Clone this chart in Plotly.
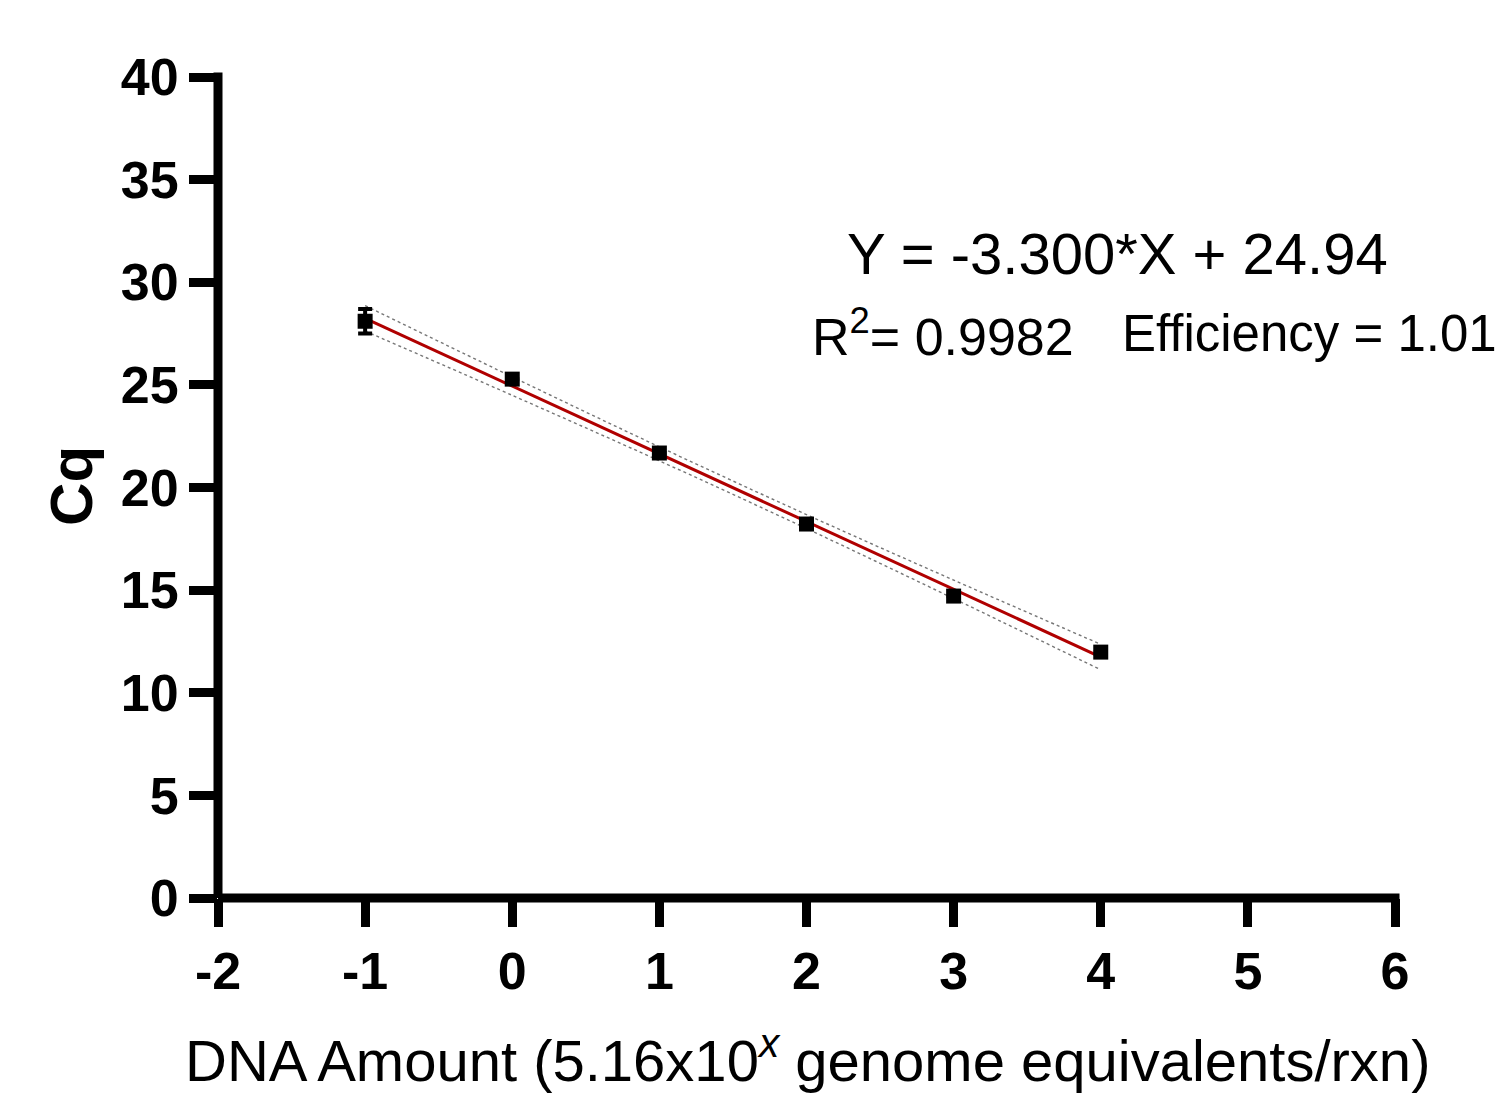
import plotly.graph_objects as go

# ---- data ----
dna_log_amount = [-1, 0, 1, 2, 3, 4]
cq_mean = [28.1, 25.28, 21.68, 18.22, 14.71, 11.98]
cq_err = [0.6, 0.0, 0.0, 0.0, 0.0, 0.0]

fit_x = [-1, 0, 1, 2, 3, 4]
fit_y = [28.24, 24.94, 21.64, 18.34, 15.04, 11.74]
ci_upper = [28.86, 25.39, 21.98, 18.68, 15.49, 12.36]
ci_lower = [27.62, 24.49, 21.30, 18.00, 14.59, 11.12]

x_ticks = [-2, -1, 0, 1, 2, 3, 4, 5, 6]
y_ticks = [0, 5, 10, 15, 20, 25, 30, 35, 40]

FONT = "Arial, Liberation Sans, Helvetica, sans-serif"

fig = go.Figure()

fig.add_trace(go.Scatter(x=fit_x, y=ci_upper, mode="lines",
                         line=dict(color="#777777", width=1.4, dash="dot", shape="spline"),
                         hoverinfo="skip", showlegend=False))
fig.add_trace(go.Scatter(x=fit_x, y=ci_lower, mode="lines",
                         line=dict(color="#777777", width=1.4, dash="dot", shape="spline"),
                         hoverinfo="skip", showlegend=False))
fig.add_trace(go.Scatter(x=fit_x, y=fit_y, mode="lines",
                         line=dict(color="#b00000", width=3),
                         showlegend=False))
fig.add_trace(go.Scatter(x=dna_log_amount, y=cq_mean, mode="markers",
                         marker=dict(symbol="square", size=15, color="black"),
                         error_y=dict(type="data", array=cq_err, visible=True,
                                      color="black", thickness=4, width=7),
                         showlegend=False))

axis_common = dict(showgrid=False, zeroline=False, showline=False,
                   ticks="outside", ticklen=28, tickwidth=9, tickcolor="black",
                   tickfont=dict(family=FONT, size=52, color="black", weight="bold"))

fig.update_xaxes(range=[-2, 6], tickvals=x_ticks, ticktext=[str(v) for v in x_ticks],
                 **axis_common)
fig.update_yaxes(range=[0, 40], tickvals=y_ticks, ticktext=[str(v) for v in y_ticks],
                 ticklabelstandoff=0, **axis_common)

# axis lines
fig.add_shape(type="line", xref="x domain", yref="y domain",
              x0=0, x1=0, y0=0, y1=1 + 4.5 / 821, line=dict(color="black", width=9))
fig.add_shape(type="line", xref="x domain", yref="y domain",
              x0=0, x1=1 + 4.5 / 1177, y0=0, y1=0, line=dict(color="black", width=9))

fig.add_annotation(xref="paper", yref="paper", x=0.764, y=0.7856,
                   text="Y = -3.300*X + 24.94", showarrow=False,
                   font=dict(family=FONT, size=58, color="black"),
                   xanchor="center", yanchor="middle")
fig.add_annotation(xref="paper", yref="paper", x=0.503, y=0.688,
                   text="R<sup>2</sup>= 0.9982", showarrow=False,
                   font=dict(family=FONT, size=52, color="black"),
                   xanchor="left", yanchor="middle")
fig.add_annotation(xref="paper", yref="paper", x=0.766, y=0.688,
                   text="Efficiency = 1.01", showarrow=False,
                   font=dict(family=FONT, size=51, color="black"),
                   xanchor="left", yanchor="middle")
fig.add_annotation(xref="paper", yref="paper", x=0.501, y=-0.240,
                   text="DNA Amount (5.16x10<sup><i>x</i></sup> genome equivalents/rxn)",
                   showarrow=False,
                   font=dict(family=FONT, size=58, color="black"),
                   xanchor="center", yanchor="bottom")
fig.add_annotation(xref="paper", yref="paper", x=-0.124, y=0.502,
                   text="<b>Cq</b>", showarrow=False, textangle=-90,
                   font=dict(family=FONT, size=60, color="black"),
                   xanchor="center", yanchor="middle")

fig.update_layout(width=1503, height=1097,
                  margin=dict(l=218, r=108, t=77, b=199),
                  paper_bgcolor="white", plot_bgcolor="white")

fig.write_html("out.html")
